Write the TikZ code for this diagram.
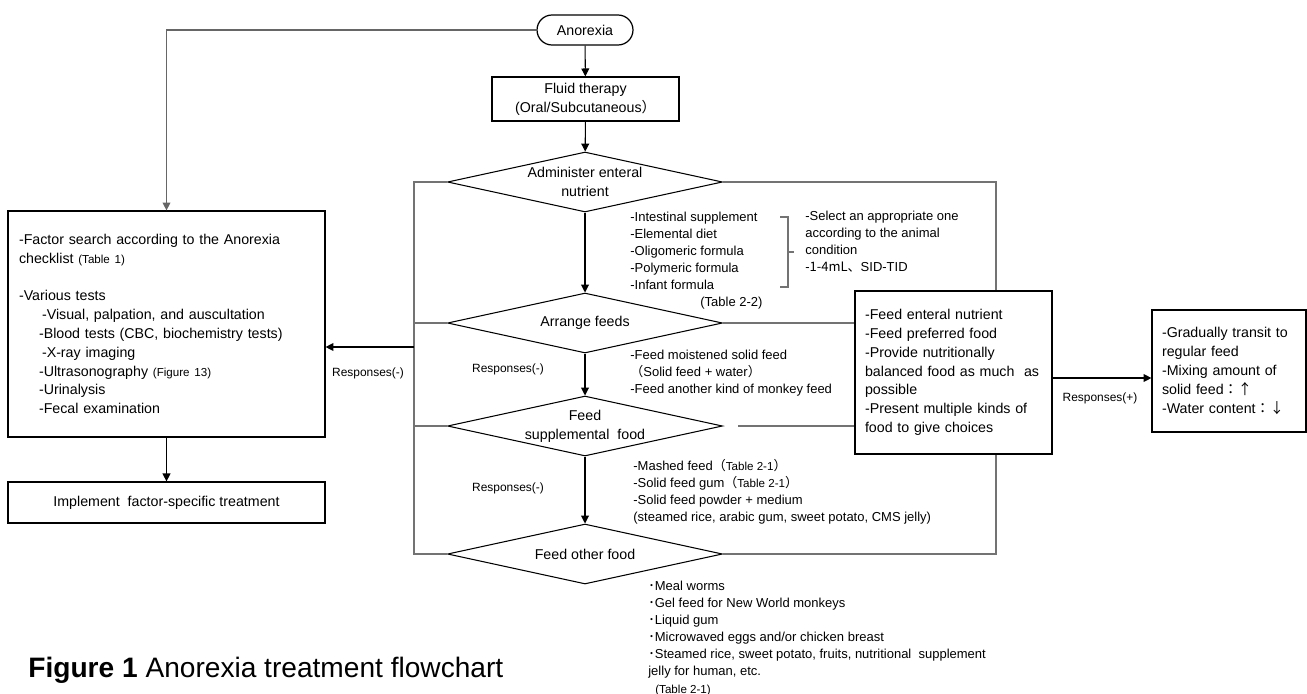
\documentclass[tikz,border=0pt]{standalone}
\usepackage{fontspec}
\setmainfont{Liberation Sans}
\newfontfamily\jp{Noto Sans CJK JP}
\usetikzlibrary{shapes,arrows,positioning,calc,arrows.meta}

\newcommand\boxfont{\fontsize{8.1}{10.7}\selectfont}
\newcommand\notefont{\fontsize{7.4}{9.7}\selectfont}
\newcommand\respfont{\fontsize{6.8}{8}\selectfont}
\newcommand\tabfont{\fontsize{6.6}{8}\selectfont}

\begin{document}
\begin{tikzpicture}[x=0.02cm, y=-0.02cm,
    box/.style={draw, line width=0.7pt, font=\boxfont},
    decision/.style={draw, diamond, aspect=4.6, inner sep=0pt, line width=0.6pt,
        minimum width=5.5cm, minimum height=1.2cm, font=\boxfont, align=center},
    note/.style={font=\notefont, align=left, inner sep=0pt, anchor=north west},
    resp/.style={font=\respfont, inner sep=0pt},
    flow/.style={-{Triangle[length=4.5pt,width=4.5pt]}, line width=0.6pt},
    backline/.style={draw=black!55, line width=0.6pt}]
    \useasboundingbox (0,0) rectangle (1307,693);

    \node[box, rounded corners=0.3cm, minimum width=1.92cm, minimum height=0.6cm] (anorexia) at (585,30) {Anorexia};
    \node[box, minimum width=3.74cm, minimum height=0.88cm, align=center] (fluid) at (585.5,99) {Fluid therapy\\(Oral/Subcutaneous{\jp ）}};

    \node[decision] (admin) at (585,182) {Administer enteral\\nutrient};
    \node[decision] (arrange) at (585,323) {Arrange feeds};
    \node[decision] (suppl) at (585,426) {Feed\\supplemental\ \ food};
    \node[decision] (other) at (585,554) {Feed other food};

    \node[box, text width=5.9cm, inner xsep=0.22cm, minimum height=4.52cm, align=left] (factor) at (166.5,324) {-Factor search according to the Anorexia\\
        checklist {\tabfont (Table 1)}\\[10.7pt]
        -Various tests\\
        \hspace*{0.46cm}-Visual, palpation, and auscultation\\
        \hspace*{0.4cm}-Blood tests (CBC, biochemistry tests)\\
        \hspace*{0.46cm}-X-ray imaging\\
        \hspace*{0.4cm}-Ultrasonography {\tabfont (Figure 13)}\\
        \hspace*{0.4cm}-Urinalysis\\
        \hspace*{0.4cm}-Fecal examination};
    \node[box, minimum width=6.34cm, minimum height=0.82cm] (treat) at (166.5,502.5) {Implement\ \ factor-specific treatment};

    \node[box, text width=3.54cm, inner xsep=0.2cm, minimum height=3.26cm, align=left] (enteral) at (953.5,372.5) {-Feed enteral nutrient\\-Feed preferred food\\-Provide nutritionally\\balanced food as much\ \ as\\possible\\-Present multiple kinds of\\food to give choices};
    \node[box, text width=2.68cm, inner xsep=0.2cm, minimum height=2.44cm, align=left] (transit) at (1229,371) {-Gradually transit to\\regular feed\\-Mixing amount of\\solid feed{\jp ：↑}\\-Water content{\jp ：↓}};

    \node[note] (enteraltypes) at (630,212) {-Intestinal supplement\\-Elemental diet\\-Oligomeric formula\\-Polymeric formula\\-Infant formula\\\hspace*{1.4cm}(Table 2-2)};
    \node[note] (select) at (805,211) {-Select an appropriate one\\according to the animal\\condition\\-{\jp 1-4mL、}SID-TID};
    \draw[backline] (780,217) -- (788,217) -- (788,287) -- (780,287) (788,252) -- (794,252);

    \node[note] (moist) at (630,350) {-Feed moistened solid feed\\{\jp （}Solid feed + water{\jp ）}\\-Feed another kind of monkey feed};
    \node[note] (mashed) at (633,459) {-Mashed feed{\jp （}{\tabfont Table 2-1}{\jp ）}\\-Solid feed gum{\jp （}{\tabfont Table 2-1}{\jp ）}\\-Solid feed powder + medium\\(steamed rice, arabic gum, sweet potato, CMS jelly)};
    \node[note] (otherfoods) at (648,581) {{\jp ･}Meal worms\\{\jp ･}Gel feed for New World monkeys\\{\jp ･}Liquid gum\\{\jp ･}Microwaved eggs and/or chicken breast\\{\jp ･}Steamed rice, sweet potato, fruits, nutritional\ \ supplement\\jelly for human, etc.\\\hspace*{0.14cm}{\tabfont (Table 2-1)}};

    \node[resp] (respleft) at (368,373) {Responses(-)};
    \node[resp] (respmid) at (508,369) {Responses(-)};
    \node[resp] (resplow) at (508,488) {Responses(-)};
    \node[resp] (respplus) at (1100,398) {Responses(+)};

    \node[anchor=west, inner sep=0pt, font=\fontsize{16}{19}\selectfont] (caption) at (28,670) {\textbf{Figure 1} Anorexia treatment flowchart};

    \coordinate (leftrail) at (414,347);
    \coordinate (rightrail) at (996,182);

    \draw[flow] (anorexia) -- (fluid);
    \draw[flow] (fluid) -- (admin);
    \draw[flow] (admin) -- (arrange);
    \draw[flow] (arrange) -- (suppl);
    \draw[flow] (suppl) -- (other);
    \draw[flow, draw=black!60] (anorexia.west) -| (factor.north);
    \draw[flow] (factor) -- (treat);

    \draw[backline] (admin.west) -- (admin.west -| leftrail) -- (other.west -| leftrail) -- (other.west);
    \draw[backline] (arrange.west) -- (arrange.west -| leftrail);
    \draw[backline] (suppl.west) -- (suppl.west -| leftrail);
    \draw[flow] (leftrail) -- (leftrail -| factor.east);

    \draw[backline] (admin.east) -| (rightrail |- enteral.north);
    \draw[backline] (other.east) -| (rightrail |- enteral.south);
    \draw[backline] (arrange.east) -- (arrange.east -| enteral.west);
    \draw[backline, shorten <=0.3cm] (suppl.east) -- (suppl.east -| enteral.west);
    \draw[flow] ([yshift=-0.11cm]enteral.east) -- ([yshift=-0.11cm]enteral.east -| transit.west);
\end{tikzpicture}
\end{document}
